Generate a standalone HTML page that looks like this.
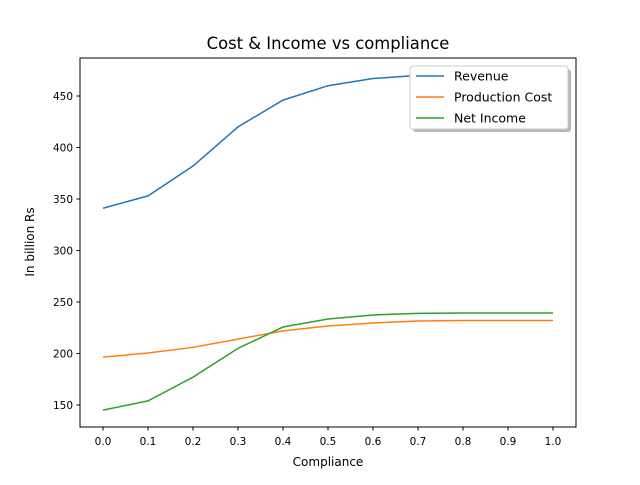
<!DOCTYPE html>
<html><head><meta charset="utf-8"><style>
body{margin:0;background:#fff;}
svg text{font-family:"DejaVu Sans","Liberation Sans",sans-serif;}
</style></head><body>
<svg id="chart" width="640" height="480" xmlns="http://www.w3.org/2000/svg">
<rect width="640" height="480" fill="#fff"/>
<text x="328" y="49" font-size="16.4" text-anchor="middle">Cost &amp; Income vs compliance</text>
<g id="plot"></g>
<rect x="80" y="58" width="496" height="369" fill="none" stroke="#000" stroke-width="1"/>
<text x="328" y="466" font-size="12" text-anchor="middle">Compliance</text>
<text x="34" y="242" font-size="12" text-anchor="middle" transform="rotate(-90 34 242)">In billion Rs</text>
<g>
<rect x="413" y="69" width="158" height="63" rx="3" fill="#888" opacity="0.6"/>
<rect x="410" y="66" width="158" height="63" rx="3" fill="#fff" stroke="#ccc"/>
<g id="legend-items"></g>
</g>
</svg>
<script>
const categories=[0,0.1,0.2,0.3,0.4,0.5,0.6,0.7,0.8,0.9,1.0];
const revenue=[341,353,382,420,446,460,467,470,471,472,472];
const productionCost=[196.5,200.5,206,214,222,226.7,229.6,231.5,232,232,232];
const netIncome=[145,154,177,205,225.7,233.5,237.4,239,239.3,239.3,239.3];
const yTicks=[150,200,250,300,350,400,450];
const xTicks=[0,0.1,0.2,0.3,0.4,0.5,0.6,0.7,0.8,0.9,1.0];
const seriesNames=["Revenue","Production Cost","Net Income"];
const colors=["#1f77b4","#ff7f0e","#2ca02c"];
const NS="http://www.w3.org/2000/svg";
const xs=v=>103+v*450;
const ys=v=>405-(v-150)*1.03;
const plot=document.getElementById('plot');
function mk(t,a,p){const e=document.createElementNS(NS,t);for(const k in a)e.setAttribute(k,a[k]);(p||plot).appendChild(e);return e;}
xTicks.forEach(t=>{
 const l=mk('line',{x1:xs(t),x2:xs(t),y1:427,y2:430.5,stroke:'#000'});
 
 
 const tx=mk('text',{x:xs(t),y:445,'font-size':10.5,'text-anchor':'middle'});
 tx.textContent=t.toFixed(1);
 
 
});
yTicks.forEach(t=>{
 const l=mk('line',{x1:76.5,x2:80,y1:ys(t),y2:ys(t),stroke:'#000'});
 
 
 const tx=mk('text',{x:73,y:ys(t)+4,'font-size':10.5,'text-anchor':'end'});
 tx.textContent=t;
 
 
});
[revenue,productionCost,netIncome].forEach((s,i)=>{
 const p=mk('polyline',{points:s.map((v,j)=>xs(categories[j])+','+ys(v)).join(' '),fill:'none',stroke:colors[i],'stroke-width':1.5});
 
 
});
const lg=document.getElementById('legend-items');
seriesNames.forEach((n,i)=>{
 const y=76+i*21;
 const l=mk('line',{x1:416,x2:444,y1:y,y2:y,stroke:colors[i],'stroke-width':1.5},lg);
 
 
 const t=mk('text',{x:454,y:y+4.5,'font-size':12.5},lg);
 t.textContent=n;
 
 
});
</script>
</body></html>
